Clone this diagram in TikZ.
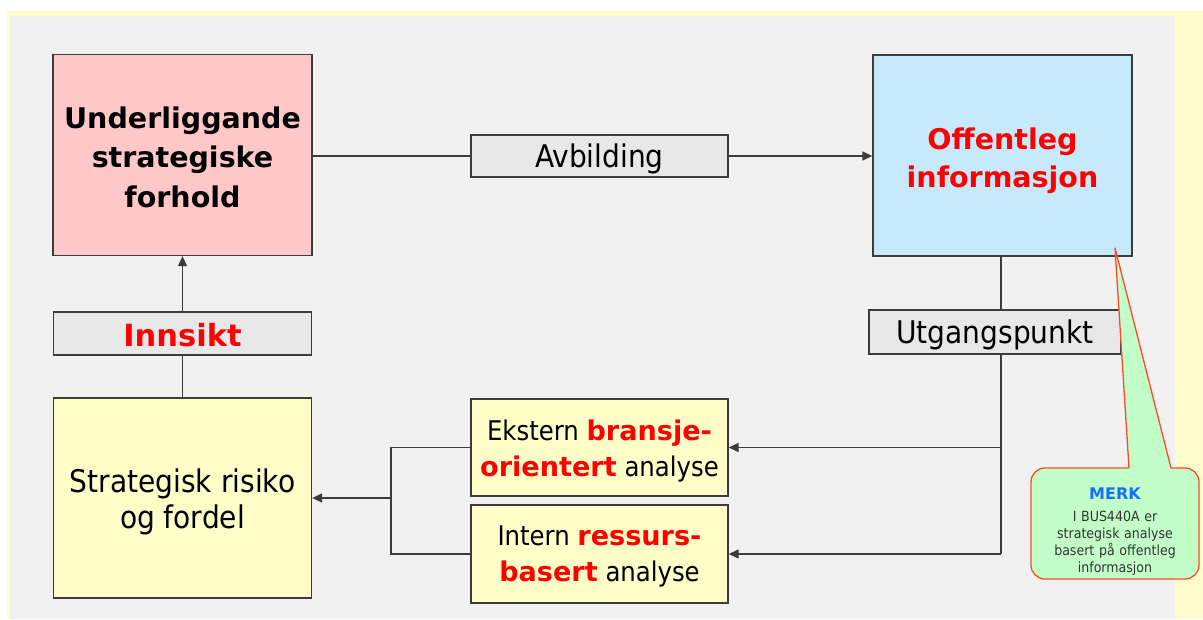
\documentclass[tikz,border=0pt]{standalone}
\usepackage{fontspec}
\setmainfont{DejaVu Sans}
\newfontfamily\condfont{DejaVu Sans Condensed}
\usetikzlibrary{arrows.meta}

\definecolor{bgyellow}{HTML}{FFFDCC}
\definecolor{bggray}{HTML}{F1F1F1}
\definecolor{boxpink}{HTML}{FFC8C8}
\definecolor{boxblue}{HTML}{C6EAFB}
\definecolor{boxyellow}{HTML}{FFFDC8}
\definecolor{labelgray}{HTML}{E8E8E8}
\definecolor{linegray}{HTML}{3C3C3C}
\definecolor{notegreen}{HTML}{C2FFC8}
\definecolor{noteedge}{HTML}{FF4A2A}
\definecolor{merkblue}{HTML}{1A6CFF}
\definecolor{keyred}{HTML}{FF0000}

\newcommand\titlefont{\bfseries\fontsize{28.5}{39.5}\selectfont}
\newcommand\plainfont{\condfont\fontsize{31.2}{36}\selectfont}
\newcommand\mixfont{\condfont\fontsize{27.1}{36.5}\selectfont}
\newcommand\hl[1]{{\normalfont\bfseries\color{keyred}#1}}

\tikzset{
  box/.style={draw=linegray, line width=1.3pt, inner sep=0pt, align=center},
  tag/.style={box, fill=labelgray, font=\plainfont},
  conn/.style={draw=linegray, line width=1.3pt},
  arrowconn/.style={conn, -{Triangle[length=10pt,width=9pt]}},
  note/.style={draw=noteedge, line width=1.3pt, fill=notegreen, rounded corners=14pt},
}

\begin{document}
\begin{tikzpicture}[x=1pt,y=-1pt]
\useasboundingbox (0,0) rectangle (1203,619);
% page background
\fill[bgyellow] (7,11) rectangle (1203,619);
\fill[bggray] (10,16) rectangle (1175,619);

% main boxes (text height nudges the text block slightly below centre)
\node[box, fill=boxpink, minimum width=259pt, minimum height=201pt, font=\titlefont,
      text height=104.7pt]
  (base) at (182.5,155) {Underliggande\\strategiske\\forhold};
\node[box, fill=boxblue, minimum width=259pt, minimum height=201pt, text=keyred,
      font=\bfseries\fontsize{28.5}{37.5}\selectfont, text height=69.2pt]
  (info) at (1002.5,155.5) {Offentleg\\informasjon};
\node[tag, minimum width=257pt, minimum height=42pt, text height=29.6pt]
  (avb) at (599.5,156) {Avbilding};
\node[tag, minimum width=258pt, minimum height=43pt, text=keyred,
      font=\bfseries\fontsize{30.5}{36}\selectfont, text height=27pt]
  (insight) at (182.5,333.5) {Innsikt};
\node[tag, minimum width=252pt, minimum height=44pt, text height=29.6pt]
  (start) at (995,332) {Utgangspunkt};
\node[box, fill=boxyellow, minimum width=258pt, minimum height=200pt, font=\plainfont,
      text height=67.6pt]
  (risk) at (182.5,498) {Strategisk risiko\\og fordel};
\node[box, fill=boxyellow, minimum width=257pt, minimum height=97pt, font=\mixfont,
      text height=64.1pt]
  (ext) at (599.5,447.5) {Ekstern \hl{bransje-}\\\hl{orientert} analyse};
\node[box, fill=boxyellow, minimum width=257pt, minimum height=98pt, font=\mixfont,
      text height=61.3pt]
  (int) at (599.5,554) {Intern \hl{ressurs-}\\\hl{basert} analyse};

% top row
\draw[conn] (base.east |- avb.west) -- (avb.west);
\draw[arrowconn] (avb.east) -- (avb.east -| info.west);

% left column
\draw[conn] (risk.north) -- (insight.south);
\draw[arrowconn] (insight.north) -- (base.south);

% right column feeding both analyses
\coordinate (drop) at (1001,554);
\draw[conn] (info.south -| drop) -- (start.north -| drop);
\draw[conn] (start.south -| drop) -- (drop);
\draw[arrowconn] (drop) -- (int.east);
\draw[arrowconn] (ext.east -| drop) -- (ext.east);

% analyses merge into risk box
\coordinate (join) at (391,498);
\draw[conn] (ext.west) -| (join) |- (int.west);
\draw[arrowconn] (join) -- (risk.east);

% note callout
\node[note, minimum width=168pt, minimum height=111pt] (note) at (1115,523.5) {};
\fill[notegreen] (1129,469.6) -- (1115,248) -- (1171,469.6) -- cycle;
\draw[noteedge, line width=1.3pt, line join=round] (1129,468) -- (1115,248) -- (1171,468);
\node[text width=164pt, align=center, inner sep=0pt, text=black!80,
      font=\condfont\fontsize{14}{17}\selectfont] (notebody) at (1115,532)
  {{\normalfont\bfseries\fontsize{16}{17}\selectfont\color{merkblue}MERK}\\[5pt]
   I BUS440A er\\strategisk analyse\\basert på offentleg\\informasjon};
\end{tikzpicture}
\end{document}
